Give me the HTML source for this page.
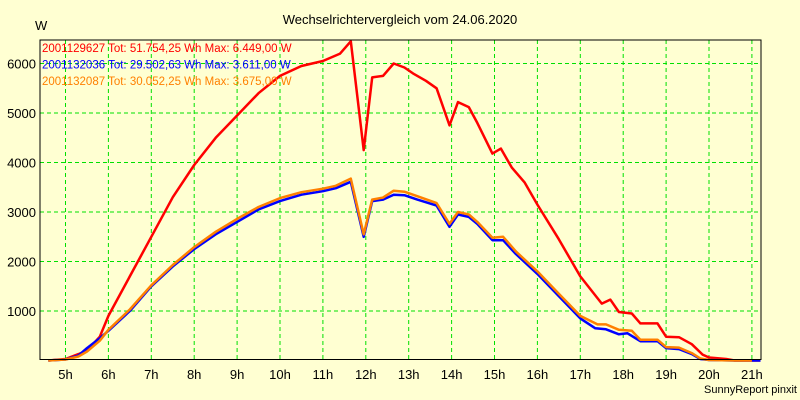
<!DOCTYPE html>
<html><head><meta charset="utf-8"><style>
body{margin:0;background:#FFFFD2;}
svg{display:block;font-family:"Liberation Sans",sans-serif;}
</style></head><body>
<svg id="c" width="800" height="400">
<rect width="800" height="400" fill="#FFFFD2"/>
<text x="400" y="24" font-size="13" text-anchor="middle">Wechselrichtervergleich vom 24.06.2020</text>
<text x="35" y="30" font-size="13">W</text>
<g id="grid"></g><g id="series"></g>
<rect x="40" y="40" width="721" height="319.5" fill="none" stroke="#000"/>
<g id="legend" font-size="11.5"></g>
<text x="797" y="393" font-size="11" text-anchor="end">SunnyReport pinxit</text>
</svg>
<script>
const yTicks=[1000,2000,3000,4000,5000,6000];
const xTicks=[5,6,7,8,9,10,11,12,13,14,15,16,17,18,19,20,21];
const redT=[4.6,5.0,5.3,5.5,5.8,6.0,6.5,7.0,7.5,8.0,8.5,9.0,9.5,10.0,10.5,11.0,11.4,11.65,11.95,12.15,12.4,12.65,12.9,13.1,13.4,13.65,13.95,14.15,14.4,14.6,14.95,15.15,15.4,15.7,16.0,16.5,17.0,17.5,17.7,17.9,18.2,18.4,18.8,19.0,19.3,19.6,19.85,20.0,20.4,20.6,21.2];
const redV=[0,30,130,200,480,900,1700,2500,3300,3950,4500,4950,5400,5750,5950,6050,6200,6449,4250,5720,5750,6000,5920,5800,5650,5500,4750,5220,5120,4800,4180,4280,3900,3600,3150,2450,1700,1150,1230,980,950,750,750,480,470,330,120,60,30,0,0];
const blueT=[4.6,5.0,5.3,5.5,5.8,6.0,6.5,7.0,7.5,8.0,8.5,9.0,9.5,10.0,10.5,11.0,11.3,11.65,11.95,12.15,12.4,12.65,12.9,13.2,13.65,13.95,14.15,14.4,14.6,14.95,15.2,15.5,16.0,16.5,17.0,17.35,17.6,17.9,18.1,18.4,18.8,19.0,19.3,19.6,19.8,20.0,20.6,21.2];
const blueV=[0,20,100,250,450,600,1000,1500,1900,2250,2550,2800,3050,3220,3350,3420,3480,3611,2500,3220,3250,3350,3340,3250,3130,2700,2950,2900,2760,2430,2430,2150,1750,1300,850,650,630,530,550,390,390,250,230,130,30,10,0,0];
const orT=[4.6,5.0,5.3,5.5,5.8,6.0,6.5,7.0,7.5,8.0,8.5,9.0,9.5,10.0,10.5,11.0,11.3,11.65,11.95,12.15,12.4,12.65,12.9,13.2,13.65,13.95,14.15,14.4,14.6,14.95,15.2,15.5,16.0,16.5,17.0,17.4,17.6,17.9,18.2,18.4,18.8,19.0,19.3,19.6,19.8,20.0,20.6,21.0];
const orV=[0,20,80,180,400,620,1030,1520,1930,2290,2600,2860,3100,3280,3400,3470,3530,3675,2550,3250,3290,3430,3410,3320,3180,2760,3000,2950,2800,2480,2500,2200,1800,1350,900,730,730,620,600,420,420,270,260,150,40,10,0,0];
const legendTexts=["2001129627 Tot: 51.754,25 Wh Max: 6.449,00 W","2001132036 Tot: 29.502,63 Wh Max: 3.611,00 W","2001132087 Tot: 30.052,25 Wh Max: 3.675,00 W"];
const colors=["#FF0000","#0000FF","#FF8000"];
const X=h=>65.5+(h-5)*42.9;
const Y=v=>360.5-v*0.0495;
const NS="http://www.w3.org/2000/svg";
const grid=document.getElementById('grid');
function mk(tag,attrs,parent){const e=document.createElementNS(NS,tag);for(const k in attrs)e.setAttribute(k,attrs[k]);parent.appendChild(e);return e;}
yTicks.forEach(v=>{
 const l=mk('line',{x1:40,x2:761,y1:Y(v),y2:Y(v),stroke:'#00E000','stroke-dasharray':'4,3'},grid);
 
 
 const t=mk('text',{x:36,y:Y(v)+5,'font-size':13,'text-anchor':'end'},grid);t.textContent=v;
 
 
});
xTicks.forEach(h=>{
 const l=mk('line',{x1:X(h),x2:X(h),y1:40,y2:359.5,stroke:'#00E000','stroke-dasharray':'4,3'},grid);
 
 
 const t=mk('text',{x:X(h),y:379,'font-size':13,'text-anchor':'middle'},grid);t.textContent=h+'h';
 
 
});
const S=document.getElementById('series');
[[redT,redV],[blueT,blueV],[orT,orV]].forEach((s,i)=>{
 const pts=s[0].map((t,j)=>X(t).toFixed(1)+','+Y(s[1][j]).toFixed(1)).join(' ');
 const p=mk('polyline',{points:pts,fill:'none',stroke:colors[i],'stroke-width':2.5,'stroke-linejoin':'round'},S);
 
 
});
const L=document.getElementById('legend');
legendTexts.forEach((txt,i)=>{
 const t=mk('text',{x:42,y:52+i*16.5,fill:colors[i]},L);t.textContent=txt;
 
 
});
</script>
</body></html>
